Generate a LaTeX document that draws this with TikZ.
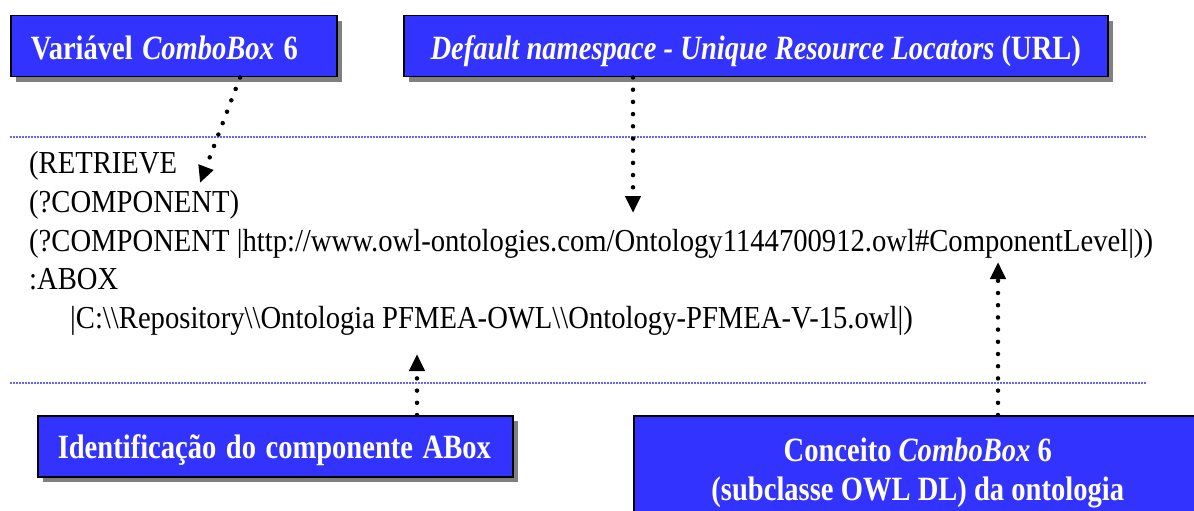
\documentclass[tikz,border=0pt]{standalone}
\usepackage{fontspec}
\setmainfont{Liberation Serif}
\newfontfamily\querybody[FakeStretch=0.895]{Liberation Serif}
\usepackage{xcolor}
\usepackage{graphicx}
\usetikzlibrary{arrows.meta,positioning,shadows}
\definecolor{boxblue}{RGB}{51,51,255}
\definecolor{ruleblue}{RGB}{100,100,255}
\newcommand{\narrow}[1]{\scalebox{0.84}[1]{#1}}

\begin{document}
\begin{tikzpicture}[
  x=1pt, y=-1pt,
  box/.style={draw=black, line width=1.5pt, fill=boxblue, text=white, anchor=north west,
    font=\fontsize{34}{39}\selectfont\bfseries, inner ysep=0pt, text height=27pt, text depth=0pt,
    drop shadow={shadow xshift=5pt, shadow yshift=-5pt, fill=black!50, opacity=1}},
  leftbox/.style={box, align=left, inner xsep=20pt},
  line/.style={anchor=base west, inner sep=0pt, font=\querybody\fontsize{32}{38}\selectfont},
  rule/.style={draw=ruleblue, line width=1.3pt, dash pattern=on 1.5pt off 1.5pt},
  pointer/.style={-{Triangle[length=17pt,width=15pt]}, line width=4.5pt, line cap=round, dash pattern=on 0pt off 12.2pt}
]
\useasboundingbox (0,0) rectangle (1194,511);
\fill[white] (0,0) rectangle (1194,511);
\clip (0,0) rectangle (1194,511);

% caixas de rotulo
\node[leftbox, text width=286pt, minimum height=61pt] (var) at (10,15) {\narrow{Variável \textit{ComboBox} 6}};
\node[box, minimum width=704pt, minimum height=61pt] (ns) at (403,15) {\narrow{\textit{Default namespace - Unique Resource Locators} (URL)}};
\node[leftbox, text width=435pt, minimum height=61pt, text height=25pt] (abox) at (37,415) {\narrow{Identificação do componente ABox}};
\node[box, align=center, text height=, text depth=, minimum width=568pt, minimum height=114pt] (concept) at (633,415) {\narrow{Conceito \textit{ComboBox} 6}\\\narrow{(subclasse OWL DL) da ontologia}};

% linhas separadoras
\coordinate (r1a) at (10,137);
\coordinate (r1b) at (1147,137);
\coordinate (r2a) at (10,383);
\coordinate (r2b) at (1147,383);
\draw[rule] (r1a) -- (r1b);
\draw[rule] (r2a) -- (r2b);

% consulta
\node[line] (q1) at (29,173) {(RETRIEVE};
\node[line] (q2) at (29,212) {(?COMPONENT)};
\node[line] (q3) at (29,251) {(?COMPONENT |http://www.owl-ontologies.com/Ontology1144700912.owl\#ComponentLevel|))};
\node[line] (q4) at (29,289) {:ABOX};
\node[line] (q5) at (70,328) {|C:\textbackslash\textbackslash Repository\textbackslash\textbackslash Ontologia PFMEA-OWL\textbackslash\textbackslash Ontology-PFMEA-V-15.owl|)};

% setas
\coordinate (t1) at (200,183);
\coordinate (t2) at (633,213);
\coordinate (t3) at (417,354);
\coordinate (t4) at (998,262);
\draw[pointer] ([xshift=230pt]var.south west) -- (t1);
\draw[pointer] ([xshift=230pt]ns.south west) -- (t2);
\draw[pointer] ([xshift=380pt]abox.north west) -- (t3);
\draw[pointer] ([xshift=365pt]concept.north west) -- (t4);
\end{tikzpicture}
\end{document}
